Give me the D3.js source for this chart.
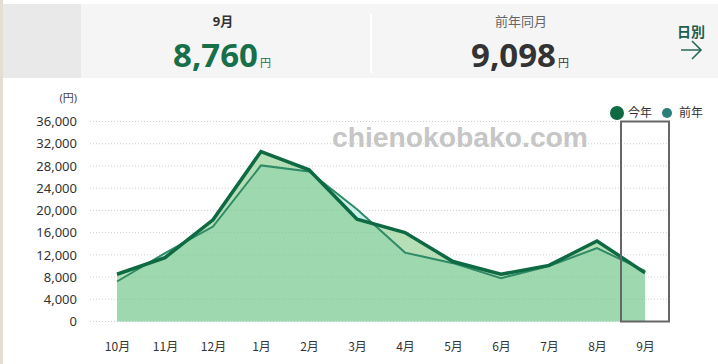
<!DOCTYPE html>
<html>
<head>
<meta charset="utf-8">
<script src="https://cdn.jsdelivr.net/npm/d3@7"></script>
<style>
  body { margin: 0; background: #fff; }
  svg text { font-family: "Noto Sans", "Noto Sans CJK JP", sans-serif; }
</style>
</head>
<body>
<div id="chart"></div>
<script>
const months = ["10月", "11月", "12月", "1月", "2月", "3月", "4月", "5月", "6月", "7月", "8月", "9月"];
const thisYear = [8500, 11500, 18300, 30600, 27300, 18400, 16000, 10800, 8500, 10100, 14500, 8760];
const lastYear = [7200, 12300, 17100, 28100, 27000, 20200, 12400, 10500, 7800, 10000, 13200, 9098];
const yTicks = [0, 4000, 8000, 12000, 16000, 20000, 24000, 28000, 32000, 36000];
const legendNames = ["今年", "前年"];

const width = 718, height = 364;

const svg = d3.select("#chart").append("svg")
    .attr("width", width)
    .attr("height", height);

// header panel
svg.append("rect").attr("x", 0).attr("y", 0).attr("width", 3).attr("height", height).attr("fill", "#e4ddd2");
svg.append("rect").attr("x", 3).attr("y", 4).attr("width", width - 3).attr("height", 74).attr("fill", "#f5f5f5");
svg.append("rect").attr("x", 3).attr("y", 4).attr("width", 78).attr("height", 74).attr("fill", "#e9e9e9");
svg.append("rect").attr("x", 370).attr("y", 14).attr("width", 2).attr("height", 59).attr("fill", "#fff");

svg.append("text").attr("x", 223).attr("y", 26).attr("text-anchor", "middle")
    .attr("font-size", 13).attr("font-weight", "bold").attr("fill", "#333").text("9月");
const cur = svg.append("text").attr("x", 173).attr("y", 67).attr("fill", "#17704a").attr("font-weight", "bold");
cur.append("tspan").attr("font-size", 33).text(d3.format(",")(thisYear[11]));
cur.append("tspan").attr("font-size", 11).attr("font-weight", "normal").attr("dx", 2).text("円");

svg.append("text").attr("x", 521).attr("y", 26).attr("text-anchor", "middle")
    .attr("font-size", 13).attr("fill", "#666").text("前年同月");
const prev = svg.append("text").attr("x", 471).attr("y", 67).attr("fill", "#333").attr("font-weight", "bold");
prev.append("tspan").attr("font-size", 33).text(d3.format(",")(lastYear[11]));
prev.append("tspan").attr("font-size", 11).attr("font-weight", "normal").attr("dx", 2).text("円");

svg.append("text").attr("x", 691).attr("y", 37).attr("text-anchor", "middle")
    .attr("font-size", 14).attr("font-weight", "bold").attr("fill", "#1d5e4c").text("日別");
svg.append("path").attr("d", "M681,50H701M692,41L701,50L692,59")
    .attr("fill", "none").attr("stroke", "#2a6a5a").attr("stroke-width", 1.6);

// chart
const x = d3.scalePoint().domain(months).range([117, 645]);
const y = d3.scaleLinear().domain([0, 36000]).range([321.5, 121.5]);

svg.append("g").selectAll("line")
    .data(yTicks)
    .enter()
    .append("line")
    .attr("x1", 90).attr("x2", 668)
    .attr("y1", d => y(d)).attr("y2", d => y(d))
    .attr("stroke", "#d0d0d0")
    .attr("stroke-dasharray", "1,2");

const yAxis = svg.append("g")
    .attr("transform", "translate(77,0)")
    .call(d3.axisLeft(y).tickValues(yTicks).tickSize(0).tickPadding(0).tickFormat(d3.format(",")));
yAxis.select(".domain").remove();
yAxis.selectAll("text").attr("font-size", 13).attr("fill", "#333")
    .style("font-family", "\"Noto Sans\", \"Noto Sans CJK JP\", sans-serif");

svg.append("text").attr("x", 77).attr("y", 102).attr("text-anchor", "end")
    .attr("font-size", 11).attr("fill", "#444").text("(円)");

const xAxis = svg.append("g")
    .attr("transform", "translate(0,340)")
    .call(d3.axisBottom(x).tickSize(0).tickPadding(0));
xAxis.select(".domain").remove();
xAxis.selectAll("text").attr("font-size", 12).attr("fill", "#333").attr("dy", "0.9em")
    .style("font-family", "\"Noto Sans CJK JP\", sans-serif");

// watermark
svg.append("text").attr("x", 332).attr("y", 147)
    .attr("font-size", 27).attr("font-weight", "bold").attr("fill", "#c6c6c6")
    .attr("textLength", 256).attr("lengthAdjust", "spacingAndGlyphs")
    .style("font-family", "\"Liberation Sans\", Arial, sans-serif")
    .text("chienokobako.com");

const area = d3.area().x((d, i) => x(months[i])).y0(y(0)).y1(d => y(d));
const line = d3.line().x((d, i) => x(months[i])).y(d => y(d));

svg.append("path").datum(lastYear).attr("d", area)
    .attr("fill", "#7fdccf").attr("fill-opacity", 0.4);
svg.append("path").datum(thisYear).attr("d", area)
    .attr("fill", "#6fc070").attr("fill-opacity", 0.5);

svg.append("path").datum(lastYear).attr("d", line)
    .attr("fill", "none").attr("stroke", "#2f8a66").attr("stroke-width", 2);
svg.append("path").datum(thisYear).attr("d", line)
    .attr("fill", "none").attr("stroke", "#0d6a43").attr("stroke-width", 3.5);

// highlight box for latest month
svg.append("rect")
    .attr("x", x("9月") - 24).attr("y", y(36000))
    .attr("width", 48).attr("height", y(0) - y(36000))
    .attr("fill", "none").attr("stroke", "#666").attr("stroke-width", 2);

// legend
svg.append("circle").attr("cx", 617).attr("cy", 113).attr("r", 7).attr("fill", "#0d6a43");
svg.append("text").attr("x", 628).attr("y", 117).attr("font-size", 12).attr("fill", "#333").text(legendNames[0]);
svg.append("circle").attr("cx", 667).attr("cy", 113).attr("r", 5).attr("fill", "#2a8078");
svg.append("text").attr("x", 679).attr("y", 117).attr("font-size", 12).attr("fill", "#333").text(legendNames[1]);
</script>
</body>
</html>
